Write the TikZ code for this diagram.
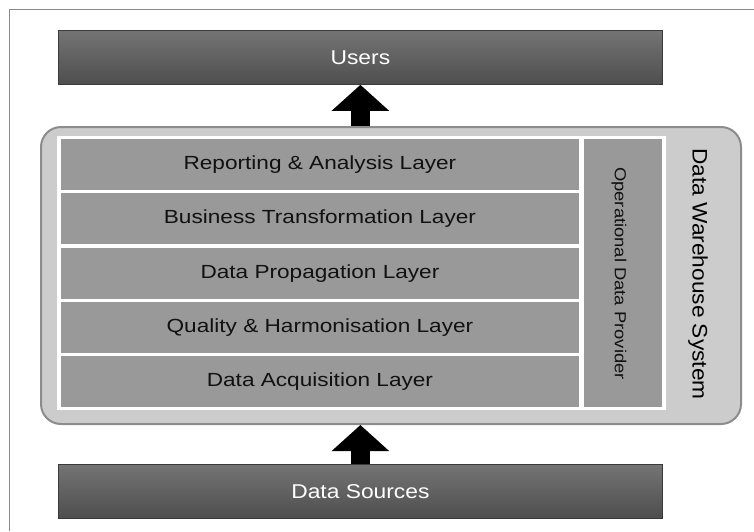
\documentclass[tikz,border=0pt]{standalone}
\usepackage{fontspec}
\setmainfont{Liberation Sans}
\usepackage{graphicx}
\usetikzlibrary{arrows.meta}
\definecolor{framegray}{HTML}{8A8A8A}
\definecolor{boxlight}{HTML}{747474}
\definecolor{boxdark}{HTML}{4E4E4E}
\definecolor{boxedge}{HTML}{3A3A3A}
\definecolor{contfill}{HTML}{CCCCCC}
\definecolor{contedge}{HTML}{8C8C8C}
\definecolor{layerfill}{HTML}{999999}
\definecolor{layertext}{HTML}{111111}
\newcommand\widetxt[2][1.2]{\scalebox{#1}[1]{#2}}
\begin{document}
\begin{tikzpicture}[x=1pt,y=-1pt,
  darkbox/.style={rectangle, inner sep=0pt, minimum width=604pt, minimum height=54pt,
    top color=boxlight, bottom color=boxdark, draw=boxedge, line width=0.8pt,
    text=white, font=\fontsize{20}{23}\selectfont, anchor=north west},
  layerbox/.style={rectangle, inner sep=0pt, minimum width=518.5pt, minimum height=51pt,
    fill=layerfill, text=layertext, font=\fontsize{19}{22}\selectfont, anchor=north west},
  blockarrow/.style={line width=19pt, line cap=butt, black,
    -{Triangle[width=56pt,length=26pt]}},
]
\useasboundingbox (0,0) rectangle (754,531);
% outer frame
\draw[framegray, line width=1.5pt] (9.5,531) -- (9.5,9.5) -- (754,9.5);

% users and data sources
\node[darkbox] (users) at (58,30) {\widetxt[1.14]{Users}};
\node[darkbox] (ds) at (58,464) {\widetxt[1.14]{Data Sources}};

% system container
\node[rectangle, rounded corners=20pt, fill=contfill, draw=contedge, line width=2pt,
  minimum width=700pt, minimum height=297pt, inner sep=0pt, anchor=north west] (sys) at (40,126) {};
\node[rectangle, fill=white, inner sep=0pt, minimum width=609pt, minimum height=274pt,
  anchor=north west] (wframe) at (57,136) {};

% layers
\node[layerbox] (l1) at (60.5,139) {\widetxt[1.19]{Reporting \& Analysis Layer}};
\node[layerbox] (l2) at (60.5,193.25) {\widetxt[1.19]{Business Transformation Layer}};
\node[layerbox] (l3) at (60.5,247.5) {\widetxt[1.19]{Data Propagation Layer}};
\node[layerbox] (l4) at (60.5,301.75) {\widetxt[1.19]{Quality \& Harmonisation Layer}};
\node[layerbox] (l5) at (60.5,356) {\widetxt[1.19]{Data Acquisition Layer}};

% operational data provider
\node[rectangle, fill=layerfill, inner sep=0pt, minimum width=78pt, minimum height=268pt] (odpbox) at (623,273) {};
\node[rotate=-90, text=layertext, font=\fontsize{16}{19}\selectfont] (odp) at (619,273.5) {\widetxt[1.15]{Operational Data Provider}};

% system label
\node[rotate=-90, text=black, font=\fontsize{21}{24}\selectfont] (dws) at (698,274) {\widetxt[1.08]{Data Warehouse System}};

% arrows
\draw[blockarrow] (ds.north) -- (ds.north |- sys.south);
\draw[blockarrow] (users.south |- sys.north) -- (users.south);
\end{tikzpicture}
\end{document}
